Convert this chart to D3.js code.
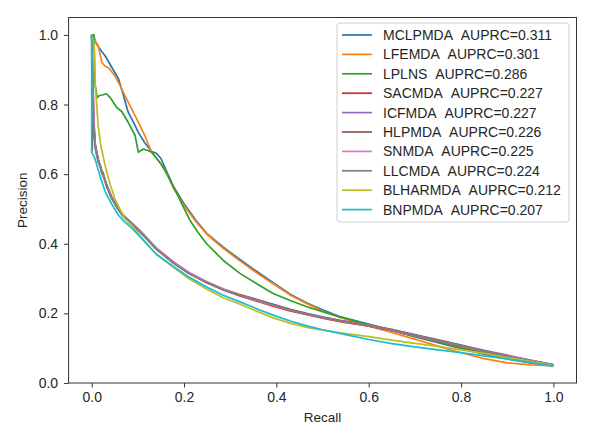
<!DOCTYPE html>
<html><head><meta charset="utf-8">
<script src="https://cdn.jsdelivr.net/npm/d3@7"></script>
<style>
html,body{margin:0;padding:0;background:#fff;}
text{font-family:"Liberation Sans",Arial,sans-serif;fill:#262626;}
</style></head>
<body><svg id="chart" width="597" height="432"></svg>
<script>
const seriesNames = ["MCLPMDA","LFEMDA","LPLNS","SACMDA","ICFMDA","HLPMDA","SNMDA","LLCMDA","BLHARMDA","BNPMDA"];
const auprc = ["0.311","0.301","0.286","0.227","0.227","0.226","0.225","0.224","0.212","0.207"];
const xTicks = [0.0,0.2,0.4,0.6,0.8,1.0];
const yTicks = [0.0,0.2,0.4,0.6,0.8,1.0];

const mclpmda = [[0,1.0],[0.003,1.0],[0.01,0.975],[0.02,0.955],[0.029,0.94],[0.04,0.915],[0.058,0.874],[0.068,0.83],[0.079,0.778],[0.09,0.75],[0.101,0.72],[0.115,0.69],[0.13,0.665],[0.14,0.66],[0.15,0.645],[0.165,0.6],[0.177,0.565],[0.2,0.515],[0.225,0.468],[0.249,0.43],[0.285,0.39],[0.321,0.355],[0.36,0.318],[0.393,0.288],[0.43,0.255],[0.466,0.23],[0.5,0.21],[0.538,0.19],[0.6,0.168],[0.65,0.151],[0.7,0.133],[0.75,0.116],[0.8,0.099],[0.85,0.083],[0.9,0.069],[0.95,0.058],[1.0,0.05]];
const lfemda = [[0,1.0],[0.003,1.0],[0.008,0.98],[0.014,0.97],[0.022,0.921],[0.029,0.91],[0.037,0.905],[0.05,0.883],[0.065,0.845],[0.079,0.807],[0.097,0.76],[0.115,0.711],[0.13,0.663],[0.145,0.638],[0.16,0.61],[0.177,0.56],[0.2,0.51],[0.225,0.465],[0.249,0.428],[0.285,0.387],[0.321,0.351],[0.36,0.314],[0.393,0.285],[0.43,0.253],[0.466,0.228],[0.5,0.207],[0.538,0.188],[0.6,0.163],[0.65,0.145],[0.7,0.126],[0.75,0.106],[0.8,0.087],[0.85,0.07],[0.9,0.058],[0.95,0.052],[1.0,0.05]];
const lplns = [[0,1.0],[0.005,1.0],[0.007,0.86],[0.012,0.82],[0.017,0.826],[0.025,0.828],[0.032,0.831],[0.04,0.82],[0.054,0.792],[0.065,0.78],[0.079,0.749],[0.094,0.711],[0.101,0.663],[0.112,0.672],[0.122,0.668],[0.13,0.663],[0.15,0.63],[0.165,0.595],[0.177,0.565],[0.195,0.515],[0.213,0.467],[0.23,0.433],[0.249,0.40],[0.285,0.352],[0.321,0.315],[0.36,0.283],[0.393,0.257],[0.43,0.237],[0.466,0.219],[0.5,0.205],[0.538,0.19],[0.6,0.169],[0.65,0.151],[0.7,0.134],[0.75,0.118],[0.8,0.101],[0.85,0.086],[0.9,0.072],[0.95,0.06],[1.0,0.05]];
const sacmda = [[0,1.0],[0.003,0.85],[0.005,0.75],[0.008,0.68],[0.014,0.64],[0.022,0.606],[0.032,0.568],[0.043,0.532],[0.055,0.505],[0.068,0.48],[0.085,0.46],[0.105,0.435],[0.14,0.385],[0.177,0.345],[0.21,0.315],[0.249,0.288],[0.285,0.267],[0.321,0.25],[0.36,0.234],[0.393,0.221],[0.43,0.207],[0.466,0.196],[0.5,0.186],[0.538,0.176],[0.6,0.163],[0.65,0.15],[0.7,0.135],[0.75,0.12],[0.8,0.105],[0.85,0.09],[0.9,0.077],[0.95,0.064],[1.0,0.052]];
const icfmda = [[0,1.0],[0.003,0.83],[0.005,0.74],[0.008,0.685],[0.014,0.645],[0.022,0.61],[0.032,0.572],[0.043,0.536],[0.055,0.508],[0.068,0.483],[0.085,0.462],[0.105,0.437],[0.14,0.388],[0.177,0.348],[0.21,0.318],[0.249,0.291],[0.285,0.27],[0.321,0.254],[0.36,0.239],[0.393,0.226],[0.43,0.212],[0.466,0.2],[0.5,0.19],[0.538,0.18],[0.6,0.167],[0.65,0.154],[0.7,0.139],[0.75,0.124],[0.8,0.109],[0.85,0.094],[0.9,0.08],[0.95,0.066],[1.0,0.052]];
const hlpmda = [[0,1.0],[0.001,0.668],[0.003,0.74],[0.005,0.72],[0.008,0.68],[0.014,0.642],[0.022,0.607],[0.032,0.569],[0.043,0.533],[0.055,0.506],[0.068,0.481],[0.085,0.461],[0.105,0.436],[0.14,0.386],[0.177,0.346],[0.21,0.316],[0.249,0.29],[0.285,0.269],[0.321,0.253],[0.36,0.238],[0.393,0.225],[0.43,0.211],[0.466,0.199],[0.5,0.189],[0.538,0.179],[0.6,0.166],[0.65,0.153],[0.7,0.138],[0.75,0.123],[0.8,0.108],[0.85,0.092],[0.9,0.078],[0.95,0.065],[1.0,0.052]];
const snmda = [[0,1.0],[0.003,0.8],[0.005,0.73],[0.008,0.675],[0.014,0.638],[0.022,0.604],[0.032,0.566],[0.043,0.531],[0.055,0.504],[0.068,0.479],[0.085,0.459],[0.105,0.434],[0.14,0.386],[0.177,0.346],[0.21,0.317],[0.249,0.29],[0.285,0.269],[0.321,0.252],[0.36,0.236],[0.393,0.223],[0.43,0.209],[0.466,0.198],[0.5,0.188],[0.538,0.178],[0.6,0.165],[0.65,0.151],[0.7,0.136],[0.75,0.121],[0.8,0.106],[0.85,0.091],[0.9,0.078],[0.95,0.065],[1.0,0.052]];
const llcmda = [[0,1.0],[0.003,0.78],[0.005,0.72],[0.008,0.67],[0.014,0.635],[0.02,0.62],[0.022,0.6],[0.025,0.605],[0.032,0.565],[0.043,0.53],[0.055,0.503],[0.068,0.478],[0.085,0.458],[0.105,0.433],[0.14,0.384],[0.177,0.344],[0.21,0.315],[0.249,0.289],[0.285,0.268],[0.321,0.252],[0.36,0.237],[0.393,0.224],[0.43,0.21],[0.466,0.198],[0.5,0.188],[0.538,0.178],[0.6,0.165],[0.65,0.152],[0.7,0.137],[0.75,0.121],[0.8,0.106],[0.85,0.091],[0.9,0.077],[0.95,0.064],[1.0,0.052]];
const blharmda = [[0,1.0],[0.005,0.98],[0.008,0.85],[0.014,0.74],[0.02,0.68],[0.029,0.625],[0.04,0.57],[0.05,0.53],[0.061,0.5],[0.072,0.472],[0.09,0.448],[0.105,0.422],[0.14,0.37],[0.177,0.332],[0.21,0.3],[0.249,0.27],[0.285,0.245],[0.321,0.226],[0.36,0.205],[0.393,0.187],[0.43,0.172],[0.466,0.16],[0.5,0.152],[0.55,0.142],[0.6,0.133],[0.65,0.123],[0.7,0.114],[0.75,0.105],[0.8,0.095],[0.85,0.085],[0.9,0.073],[0.95,0.062],[1.0,0.05]];
const bnpmda = [[0,1.0],[0,0.663],[0.007,0.645],[0.018,0.595],[0.029,0.55],[0.043,0.515],[0.058,0.482],[0.072,0.462],[0.087,0.445],[0.105,0.42],[0.14,0.37],[0.177,0.335],[0.21,0.305],[0.249,0.276],[0.285,0.252],[0.321,0.233],[0.36,0.212],[0.393,0.195],[0.43,0.178],[0.466,0.164],[0.5,0.153],[0.55,0.139],[0.6,0.125],[0.65,0.113],[0.7,0.104],[0.75,0.095],[0.8,0.087],[0.85,0.078],[0.9,0.069],[0.95,0.059],[1.0,0.048]];

const seriesData = [mclpmda,lfemda,lplns,sacmda,icfmda,hlpmda,snmda,llcmda,blharmda,bnpmda];
const colors = ["#1f77b4","#ff7f0e","#2ca02c","#d62728","#9467bd","#8c564b","#e377c2","#7f7f7f","#bcbd22","#17becf"];

const svg = d3.select("#chart");
const L = 68.6, R = 576.5, T = 17.5, B = 383;
const x = d3.scaleLinear().domain([-0.05,1.05]).range([L,R]);
const y = d3.scaleLinear().domain([0,1.05]).range([B,T]);

const gx = svg.append("g").attr("transform",`translate(0,${B})`)
  .call(d3.axisBottom(x).tickValues(xTicks).tickFormat(d3.format(".1f")).tickSize(4.5).tickPadding(4.5));
const gy = svg.append("g").attr("transform",`translate(${L},0)`)
  .call(d3.axisLeft(y).tickValues(yTicks).tickFormat(d3.format(".1f")).tickSize(4.5).tickPadding(6));
[gx,gy].forEach(g=>{
  g.select(".domain").remove();
  g.selectAll(".tick line").attr("stroke","#333").attr("stroke-width",1);
  g.selectAll(".tick text").attr("font-size","14px").attr("fill","#262626")
    .attr("font-family","'Liberation Sans',Arial,sans-serif");
});

svg.append("clipPath").attr("id","clip").append("rect")
  .attr("x",L).attr("y",T).attr("width",R-L).attr("height",B-T);

const line = d3.line().x(d=>x(d[0])).y(d=>y(d[1]));
const lines = svg.append("g").attr("clip-path","url(#clip)");
seriesData.forEach((s,i)=>{
  lines.append("path").attr("d",line(s)).attr("fill","none")
    .attr("stroke",colors[i]).attr("stroke-width",1.7).attr("stroke-linejoin","round");
});

svg.append("rect").attr("x",L).attr("y",T).attr("width",R-L).attr("height",B-T)
  .attr("fill","none").attr("stroke","#333").attr("stroke-width",1);

svg.append("text").attr("x",(L+R)/2).attr("y",421.5).attr("text-anchor","middle")
  .attr("font-size","13.5px").text("Recall");
svg.append("text").attr("transform",`translate(27,${(T+B)/2}) rotate(-90)`)
  .attr("text-anchor","middle").attr("font-size","13.5px").text("Precision");

// legend
const lg = svg.append("g");
lg.append("rect").attr("x",337).attr("y",23).attr("width",232).attr("height",199)
  .attr("rx",3).attr("fill","#fff").attr("fill-opacity",0.8).attr("stroke","#d0d0d0").attr("stroke-width",1);
seriesNames.forEach((n,i)=>{
  const cy = 35 + i*19.4;
  lg.append("line").attr("x1",342).attr("x2",372).attr("y1",cy).attr("y2",cy)
    .attr("stroke",colors[i]).attr("stroke-width",1.7);
  lg.append("text").attr("x",383).attr("y",cy+5).attr("font-size","14px")
    .text(n+"\u00a0\u00a0AUPRC="+auprc[i]);
});
</script></body></html>
